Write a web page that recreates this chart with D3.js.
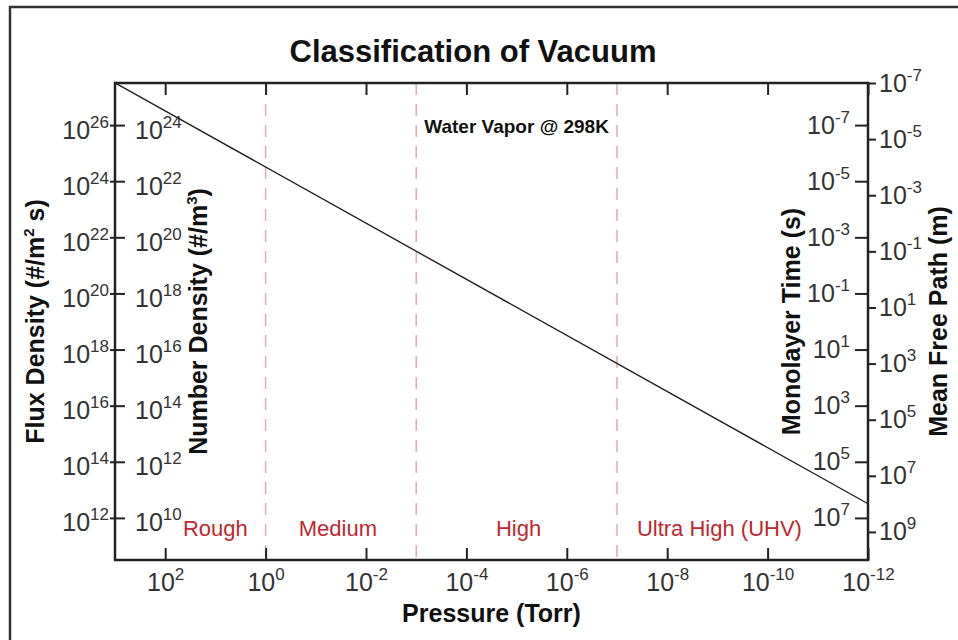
<!DOCTYPE html>
<html>
<head>
<meta charset="utf-8">
<script src="https://cdn.jsdelivr.net/npm/d3@7"></script>
<style>
  body { margin: 0; background: #fff; }
  svg { display: block; font-family: "Liberation Sans", Arial, sans-serif; }
</style>
</head>
<body>
<svg id="chart" width="958" height="640"></svg>
<script>
// Data
const pressureTorr = [1e3, 1e-12];
const numberDensity = [3.2e25, 3.2e10];   // water vapour @ 298K, #/m^3

const xTickExp = [2, 0, -2, -4, -6, -8, -10, -12];
const fluxTickExp = [26, 24, 22, 20, 18, 16, 14, 12];
const densityTickExp = [24, 22, 20, 18, 16, 14, 12, 10];
const monoTickExp = [-7, -5, -3, -1, 1, 3, 5, 7];
const mfpTickExp = [-7, -5, -3, -1, 1, 3, 5, 7, 9];

const regionBounds = [1, 1e-3, 1e-7];
const regionNames = ['Rough', 'Medium', 'High', 'Ultra High (UHV)'];
const regionAnchors = [1e1, Math.pow(10, -1.44), Math.pow(10, -5.04), Math.pow(10, -9.04)];

const svg = d3.select('#chart');
const plot = {left: 115, right: 868, top: 83, bottom: 560};
const ink = '#222';
const red = '#c1272d';

// outer frame
svg.append('rect')
    .attr('x', 10).attr('y', 7)
    .attr('width', 1000).attr('height', 700)
    .attr('fill', 'none')
    .attr('stroke', '#333')
    .attr('stroke-width', 2.5);

// Scales
const x = d3.scaleLog().domain([1e3, 1e-12]).range([plot.left, plot.right]);
const yFlux = d3.scaleLog().domain([Math.pow(10, 27.5), Math.pow(10, 10.5)]).range([plot.top, plot.bottom]);
const yDensity = d3.scaleLog().domain([Math.pow(10, 25.5), Math.pow(10, 8.5)]).range([plot.top, plot.bottom]);
const yMono = d3.scaleLog().domain([Math.pow(10, -8.5), Math.pow(10, 8.5)]).range([plot.top, plot.bottom]);
const yMfp = d3.scaleLog().domain([1e-7, 1e10]).range([plot.top, plot.bottom]);

const pow10 = e => Math.pow(10, e);

// writes "10" with a superscript exponent into each tick label
function powerLabels(g, exps, dy) {
    g.selectAll('.tick text').each(function(d, i) {
        const t = d3.select(this);
        t.text('10')
            .attr('fill', '#333')
            .style('font-size', '25px');
        if (dy !== null) t.attr('dy', dy);
        t.append('tspan')
            .attr('dy', -11)
            .style('font-size', '17px')
            .text(exps[i]);
    });
}

function styleAxis(g) {
    g.select('.domain').remove();
    g.selectAll('.tick line').attr('stroke', ink).attr('stroke-width', 2);
    g.attr('font-family', null).attr('font-size', null);
}

// dashed region boundaries
svg.append('g')
    .selectAll('line')
    .data(regionBounds)
    .enter()
    .append('line')
    .attr('x1', d => x(d)).attr('x2', d => x(d))
    .attr('y1', plot.top).attr('y2', plot.bottom)
    .attr('stroke', '#e8a8ab')
    .attr('stroke-width', 1.5)
    .attr('stroke-dasharray', '12,9');

// bottom axis (ticks point inward)
const xAxis = svg.append('g')
    .attr('transform', `translate(0,${plot.bottom})`)
    .call(d3.axisBottom(x)
        .tickValues(xTickExp.map(pow10))
        .tickSizeInner(-12)
        .tickSizeOuter(0)
        .tickPadding(13));
styleAxis(xAxis);
powerLabels(xAxis, xTickExp, null);

// top axis, ticks only
const xTop = svg.append('g')
    .attr('transform', `translate(0,${plot.top})`)
    .call(d3.axisTop(x)
        .tickValues(xTickExp.map(pow10))
        .tickSizeInner(-12)
        .tickSizeOuter(0)
        .tickFormat(''));
styleAxis(xTop);

// left: flux density outside, number density inside
const fluxAxis = svg.append('g')
    .attr('transform', `translate(${plot.left},0)`)
    .call(d3.axisLeft(yFlux)
        .tickValues(fluxTickExp.map(pow10))
        .tickSize(5)
        .tickPadding(1));
styleAxis(fluxAxis);
powerLabels(fluxAxis, fluxTickExp, 13);

const densityAxis = svg.append('g')
    .attr('transform', `translate(${plot.left},0)`)
    .call(d3.axisRight(yDensity)
        .tickValues(densityTickExp.map(pow10))
        .tickSize(10)
        .tickPadding(10));
styleAxis(densityAxis);
powerLabels(densityAxis, densityTickExp, 13);

// right: monolayer time inside, mean free path outside
const monoAxis = svg.append('g')
    .attr('transform', `translate(${plot.right},0)`)
    .call(d3.axisLeft(yMono)
        .tickValues(monoTickExp.map(pow10))
        .tickSize(13)
        .tickPadding(5));
styleAxis(monoAxis);
powerLabels(monoAxis, monoTickExp, 8);

const mfpAxis = svg.append('g')
    .attr('transform', `translate(${plot.right},0)`)
    .call(d3.axisRight(yMfp)
        .tickValues(mfpTickExp.map(pow10))
        .tickSize(8)
        .tickPadding(3));
styleAxis(mfpAxis);
powerLabels(mfpAxis, mfpTickExp, 8);

// plot frame
svg.append('rect')
    .attr('x', plot.left).attr('y', plot.top)
    .attr('width', plot.right - plot.left)
    .attr('height', plot.bottom - plot.top)
    .attr('fill', 'none')
    .attr('stroke', ink)
    .attr('stroke-width', 2.5);

// the density line
const line = d3.line()
    .x(d => x(d[0]))
    .y(d => yDensity(d[1]));

svg.append('path')
    .datum(d3.zip(pressureTorr, numberDensity))
    .attr('d', line)
    .attr('fill', 'none')
    .attr('stroke', ink)
    .attr('stroke-width', 1.4);

// region labels
svg.append('g')
    .selectAll('text')
    .data(regionNames)
    .enter()
    .append('text')
    .attr('x', (d, i) => x(regionAnchors[i]))
    .attr('y', 536)
    .attr('text-anchor', 'middle')
    .attr('fill', red)
    .style('font-size', '22px')
    .text(d => d);

svg.append('text')
    .attr('x', x(1e-3) + 8)
    .attr('y', 133)
    .style('font-size', '19px')
    .style('font-weight', 'bold')
    .attr('fill', '#111')
    .text('Water Vapor @ 298K');

// Titles
svg.append('text')
    .attr('x', 473)
    .attr('y', 62)
    .attr('text-anchor', 'middle')
    .style('font-size', '31px')
    .style('font-weight', 'bold')
    .attr('fill', '#111')
    .text('Classification of Vacuum');

svg.append('text')
    .attr('x', (plot.left + plot.right) / 2)
    .attr('y', 622)
    .attr('text-anchor', 'middle')
    .style('font-size', '25px')
    .style('font-weight', 'bold')
    .attr('fill', '#111')
    .text('Pressure (Torr)');

const midY = (plot.top + plot.bottom) / 2;
const yTitles = [
    {x: 44, parts: ['Flux Density (#/m', '2', ' s)']},
    {x: 207, parts: ['Number Density (#/m', '3', ')']},
    {x: 800, parts: ['Monolayer Time (s)']},
    {x: 947, parts: ['Mean Free Path (m)']}
];

yTitles.forEach(t => {
    const txt = svg.append('text')
        .attr('transform', `translate(${t.x},${midY}) rotate(-90)`)
        .attr('text-anchor', 'middle')
        .style('font-size', '25px')
        .style('font-weight', 'bold')
        .attr('fill', '#111');
    txt.append('tspan').text(t.parts[0]);
    if (t.parts.length > 1) {
        txt.append('tspan').attr('dy', -10).style('font-size', '15px').text(t.parts[1]);
        txt.append('tspan').attr('dy', 10).text(t.parts[2]);
    }
});
</script>
</body>
</html>
